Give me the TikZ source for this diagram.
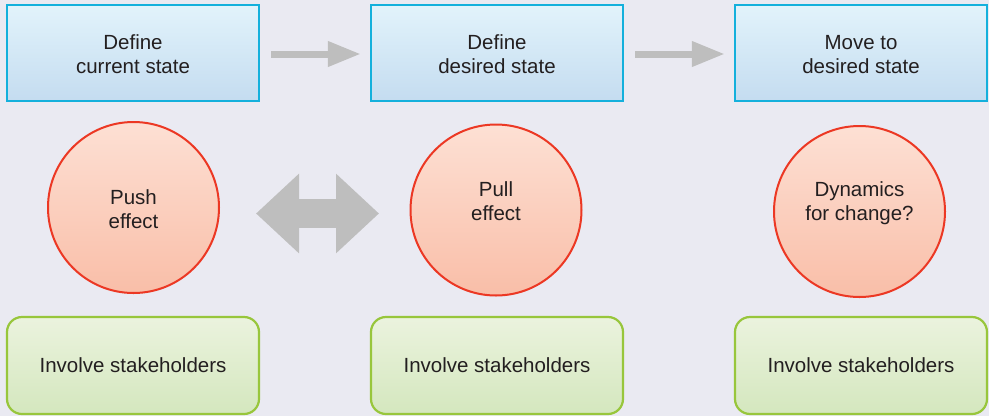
\documentclass[tikz,border=0pt]{standalone}
\usepackage{fontspec}
\setmainfont{Liberation Sans}
\usetikzlibrary{arrows.meta}
\definecolor{bgcol}{RGB}{234,234,242}
\definecolor{txtcol}{RGB}{35,31,32}
\definecolor{bluedraw}{RGB}{20,176,220}
\definecolor{bluetop}{RGB}{226,243,251}
\definecolor{bluebot}{RGB}{196,220,240}
\definecolor{reddraw}{RGB}{236,56,36}
\definecolor{redtop}{RGB}{253,224,212}
\definecolor{redbot}{RGB}{249,190,168}
\definecolor{greendraw}{RGB}{152,198,60}
\definecolor{greentop}{RGB}{235,243,222}
\definecolor{greenbot}{RGB}{212,231,190}
\definecolor{arrowgray}{RGB}{190,190,190}
\begin{document}
\begin{tikzpicture}[x=1pt,y=-1pt,
  every node/.style={text=txtcol,font=\fontsize{20.5}{24}\selectfont,align=center,inner sep=0pt},
  statebox/.style={rectangle,draw=bluedraw,line width=2.4pt,top color=bluetop,bottom color=bluebot,
    minimum width=252pt,minimum height=96pt},
  effectcirc/.style={circle,draw=reddraw,line width=2pt,top color=redtop,bottom color=redbot,
    minimum size=171pt},
  stakebox/.style={rectangle,rounded corners=15pt,draw=greendraw,line width=2.2pt,
    top color=greentop,bottom color=greenbot,minimum width=252pt,minimum height=97pt},
  flowarrow/.style={draw=arrowgray,line width=7pt,-{Triangle[length=33pt,width=24pt]}},
  botharrow/.style={draw=arrowgray,line width=28.5pt,
    {Triangle[length=43pt,width=77pt]}-{Triangle[length=43pt,width=77pt]}}]

% canvas
\fill[bgcol] (0,0) rectangle (989,416);
\useasboundingbox (0,0) rectangle (989,416);

% top row: the three states
\node[statebox] (cur) at (133,53) {};
\node[statebox] (des) at (497,53) {};
\node[statebox] (mov) at (861,53) {};
\node (curtxt) at (133,54.5) {Define\\current state};
\node (destxt) at (497,54.5) {Define\\desired state};
\node (movtxt) at (861,54.5) {Move to\\desired state};

% middle row: effects
\node[effectcirc] (push) at (133.5,207.5) {};
\node[effectcirc] (pull) at (496,210) {};
\node[effectcirc] (dyn)  at (859.5,211.5) {};
\node (pushtxt) at (133.5,209.5) {Push\\effect};
\node (pulltxt) at (496,201) {Pull\\effect};
\node (dyntxt)  at (859.5,203) {Dynamics\\for change?};

% bottom row
\node[stakebox] (sh1) at (133,365.5) {Involve stakeholders};
\node[stakebox] (sh2) at (497,365.5) {Involve stakeholders};
\node[stakebox] (sh3) at (861,365.5) {Involve stakeholders};

% arrows between the states
\draw[flowarrow] ([xshift=11pt,yshift=-1pt]cur.east) -- ([xshift=-9pt,yshift=-1pt]des.west);
\draw[flowarrow] ([xshift=11pt,yshift=-1pt]des.east) -- ([xshift=-9pt,yshift=-1pt]mov.west);

% two-way arrow between push and pull
\coordinate (pushend) at (256,213.5);
\coordinate (pullend) at (379,213.5);
\draw[botharrow] (pushend) -- (pullend);
\end{tikzpicture}
\end{document}
